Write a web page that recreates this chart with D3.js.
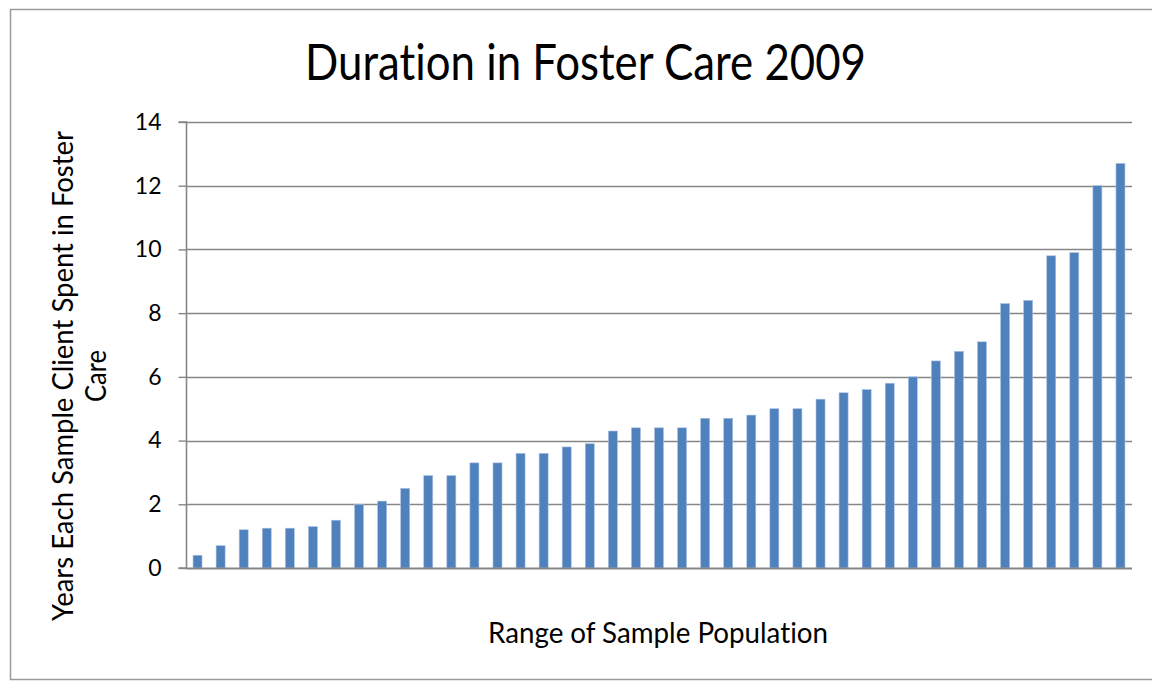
<!DOCTYPE html>
<html>
<head>
<meta charset="utf-8">
<script src="https://cdn.jsdelivr.net/npm/d3@7"></script>
<style>
  html, body { margin: 0; padding: 0; background: #ffffff; }
  svg { display: block; }
  text {
    font-family: Lato, "Open Sans", "Liberation Sans", sans-serif;
    fill: #000;
    font-variant-ligatures: none;
    font-feature-settings: "liga" 0, "clig" 0;
  }
</style>
</head>
<body>
<svg id="chart" width="1152" height="681"></svg>
<script>
// Sample clients, ordered by years spent in foster care
const clients = [1, 2, 3, 4, 5, 6, 7, 8, 9, 10, 11, 12, 13, 14, 15, 16, 17, 18, 19, 20,
                 21, 22, 23, 24, 25, 26, 27, 28, 29, 30, 31, 32, 33, 34, 35, 36, 37, 38, 39, 40, 41];
const years = [0.4, 0.7, 1.2, 1.25, 1.25, 1.3, 1.5, 2.0, 2.1, 2.5, 2.9, 2.9, 3.3, 3.3,
               3.6, 3.6, 3.8, 3.9, 4.3, 4.4, 4.4, 4.4, 4.7, 4.7, 4.8, 5.0, 5.0, 5.3,
               5.5, 5.6, 5.8, 6.0, 6.5, 6.8, 7.1, 8.3, 8.4, 9.8, 9.9, 12.0, 12.7];
const yTicks = [0, 2, 4, 6, 8, 10, 12, 14];

const titleText = "Duration in Foster Care 2009";
const xTitle = "Range of Sample Population";
const yTitleLines = ["Years Each Sample Client Spent in Foster", "Care"];

const svg = d3.select("#chart");
const plot = { left: 186, right: 1132, top: 122, bottom: 568 };

// Outer chart frame (open to the right edge)
svg.append("path")
  .attr("d", `M1152,9.5 H10.5 V679.5 H1152`)
  .attr("fill", "none")
  .attr("stroke", "#9a9a9a")
  .attr("stroke-width", 1.5);

const x = d3.scaleBand()
  .domain(clients)
  .range([plot.left, plot.right])
  .paddingInner(0.61)
  .paddingOuter(0.305);

const y = d3.scaleLinear()
  .domain([0, 14])
  .range([plot.bottom, plot.top]);

// Horizontal gridlines
svg.append("g")
  .selectAll("line")
  .data(yTicks.filter(t => t > 0))
  .join("line")
  .attr("x1", plot.left)
  .attr("x2", plot.right)
  .attr("y1", d => Math.round(y(d)) + 0.5)
  .attr("y2", d => Math.round(y(d)) + 0.5)
  .attr("stroke", "#868686")
  .attr("stroke-width", 1.5);

// Bars
svg.append("g")
  .selectAll("rect")
  .data(years)
  .join("rect")
  .attr("x", (d, i) => x(clients[i]))
  .attr("width", x.bandwidth())
  .attr("y", d => y(d))
  .attr("height", d => y(0) - y(d))
  .attr("fill", "#4f81bd")
  .attr("stroke", "#a9c1e0")
  .attr("stroke-width", 0.6);

// Y axis with outward ticks
const yAxis = d3.axisLeft(y)
  .tickValues(yTicks)
  .tickSize(8)
  .tickPadding(17)
  .tickFormat(d3.format("d"));

const gy = svg.append("g")
  .attr("transform", `translate(${plot.left + 0.5},0)`)
  .call(yAxis);
gy.select(".domain").attr("stroke", "#868686").attr("stroke-width", 1.6)
  .attr("d", `M-8,${y(14)}H0V${y(0)}H-8`);
gy.selectAll(".tick line").attr("stroke", "#868686").attr("stroke-width", 1.4);
gy.selectAll(".tick text")
  .style("font-family", "Lato, 'Open Sans', sans-serif")
  .style("font-size", "23px")
  .attr("fill", "#000");

// X axis baseline
svg.append("line")
  .attr("x1", plot.left)
  .attr("x2", plot.right)
  .attr("y1", y(0) + 0.5)
  .attr("y2", y(0) + 0.5)
  .attr("stroke", "#868686")
  .attr("stroke-width", 1.8);

// Chart title
svg.append("text")
  .attr("x", 305)
  .attr("y", 80)
  .attr("textLength", 561)
  .attr("lengthAdjust", "spacingAndGlyphs")
  .style("font-size", "51px")
  .text(titleText);

// X axis title
svg.append("text")
  .attr("x", 488)
  .attr("y", 643)
  .attr("textLength", 340)
  .attr("lengthAdjust", "spacingAndGlyphs")
  .style("font-size", "29px")
  .text(xTitle);

// Y axis title (two lines, rotated)
const yt = svg.append("g");
yt.append("text")
  .attr("transform", "translate(73,376) rotate(-90)")
  .attr("text-anchor", "middle")
  .attr("textLength", 490)
  .attr("lengthAdjust", "spacingAndGlyphs")
  .style("font-size", "28px")
  .text(yTitleLines[0]);
yt.append("text")
  .attr("transform", "translate(106,376) rotate(-90)")
  .attr("text-anchor", "middle")
  .attr("textLength", 52)
  .attr("lengthAdjust", "spacingAndGlyphs")
  .style("font-size", "28px")
  .text(yTitleLines[1]);
</script>
</body>
</html>
